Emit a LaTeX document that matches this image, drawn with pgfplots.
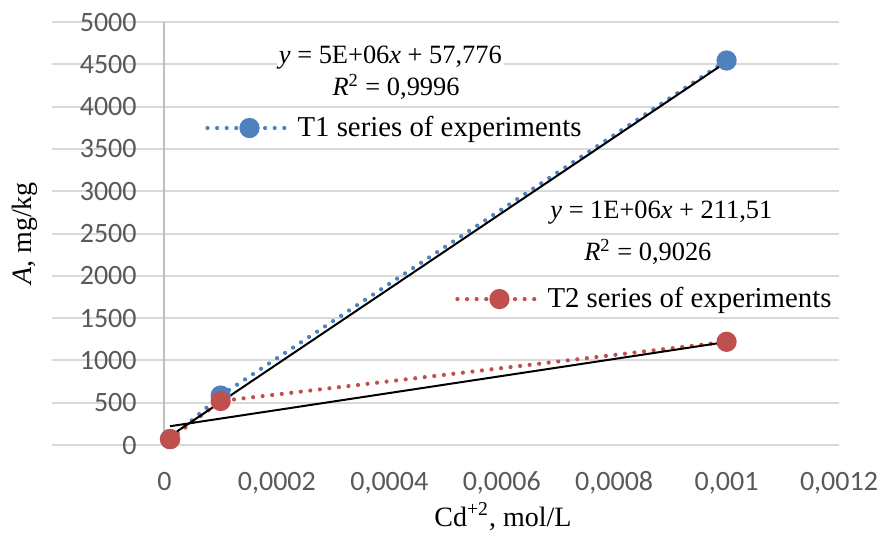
\documentclass[border=0pt]{standalone}
\usepackage{fontspec}
\setmainfont{Liberation Serif}
\newfontfamily\carlito{Carlito}
\usepackage{pgfplots}
\pgfplotsset{compat=1.18}

\definecolor{serblue}{RGB}{79,129,189}
\definecolor{serred}{RGB}{192,80,77}
\definecolor{gridgray}{RGB}{217,217,217}
\definecolor{axisgray}{RGB}{191,191,191}
\definecolor{tickgray}{RGB}{89,89,89}

\pgfplotsset{
  chartbase/.style={
    scale only axis, width=393.5pt, height=211.5pt,
    xmin=-0.0002, xmax=0.0012, ymin=0, ymax=5000,
  },
  serdot/.style={line width=2.1pt, dash pattern=on 0pt off 4.8pt, line cap=round,
    mark=*, mark size=4pt, mark options={solid}},
  trend/.style={black, line width=1pt, no marks, forget plot},
}

\begin{document}
\begin{tikzpicture}
\begin{axis}[chartbase,
  axis line style={draw=none}, major tick length=0pt,
  ymajorgrids, grid style={gridgray, line width=1pt},
  xtick={0,0.0002,0.0004,0.0006,0.0008,0.001,0.0012},
  xticklabels={0,{0,0002},{0,0004},{0,0006},{0,0008},{0,001},{0,0012}},
  ytick={0,500,1000,1500,2000,2500,3000,3500,4000,4500,5000},
  yticklabels={0,500,1000,1500,2000,2500,3000,3500,4000,4500,5000},
  ticklabel style={font=\carlito\fontsize{14}{16}\selectfont, text=tickgray},
  xticklabel style={anchor=base, yshift=-22.5pt},
  yticklabel style={anchor=east, inner sep=0pt, xshift=42.5pt},
  xlabel={Cd\textsuperscript{+2}, mol/L},
  ylabel={\textit{A}, mg/kg},
  label style={font=\fontsize{14}{16}\selectfont},
  xlabel style={at={(axis description cs:0.5730,-0.1920)}, anchor=base},
  ylabel style={at={(axis description cs:-0.0343,0.5)}, anchor=center},
  legend style={at={(axis description cs:0.1944,0.7494)}, anchor=west,
    draw=none, fill=none, inner sep=0pt, font=\fontsize{14.4}{17}\selectfont},
  legend cell align=left,
  legend image code/.code={\draw[mark repeat=2,mark phase=2,#1]
    plot coordinates {(0pt,0pt) (21pt,0pt) (42pt,0pt)};},
  clip=false,
]
% y axis line at x = 0
\draw[axisgray, line width=1pt] (axis cs:0,0) -- (axis cs:0,5000);

% T1 series
\addplot[serdot, serblue] coordinates {
  (0.00001,70) (0.0001,585) (0.001,4545)
};
\addlegendentry{T1 series of experiments}

% T2 series
\addplot[serdot, serred, forget plot] coordinates {
  (0.00001,70) (0.0001,520) (0.001,1220)
};

% linear trendlines
\addplot[trend] coordinates {(0.00001,105) (0.001,4530)};
\addplot[trend] coordinates {(0.00001,222) (0.001,1218)};

% trendline equations
\node[fill=white, inner sep=1pt, font=\fontsize{13.2}{15}\selectfont]
  at (axis cs:0.000402,4574) {\textit{y} = 5E+06\textit{x} + 57,776};
\node[font=\fontsize{13.2}{15}\selectfont]
  at (axis cs:0.000412,4232) {\textit{R}\textsuperscript{2} = 0,9996};
\node[font=\fontsize{13.2}{15}\selectfont]
  at (axis cs:0.000884,2742) {\textit{y} = 1E+06\textit{x} + 211,51};
\node[font=\fontsize{13.2}{15}\selectfont]
  at (axis cs:0.000860,2281) {\textit{R}\textsuperscript{2} = 0,9026};
\end{axis}

% second legend (T2)
\begin{axis}[chartbase, hide axis,
  legend style={at={(axis description cs:0.512,0.345)}, anchor=west,
    draw=none, fill=none, inner sep=0pt, font=\fontsize{14.4}{17}\selectfont},
  legend cell align=left,
  legend image code/.code={\draw[mark repeat=2,mark phase=2,#1]
    plot coordinates {(0pt,0pt) (21pt,0pt) (42pt,0pt)};},
]
\addlegendimage{serdot, serred}
\addlegendentry{T2 series of experiments}
\end{axis}

\pgfresetboundingbox
\path[use as bounding box] (-26pt,-43.5pt) rectangle (414.5pt,222.5pt);
\end{tikzpicture}
\end{document}
